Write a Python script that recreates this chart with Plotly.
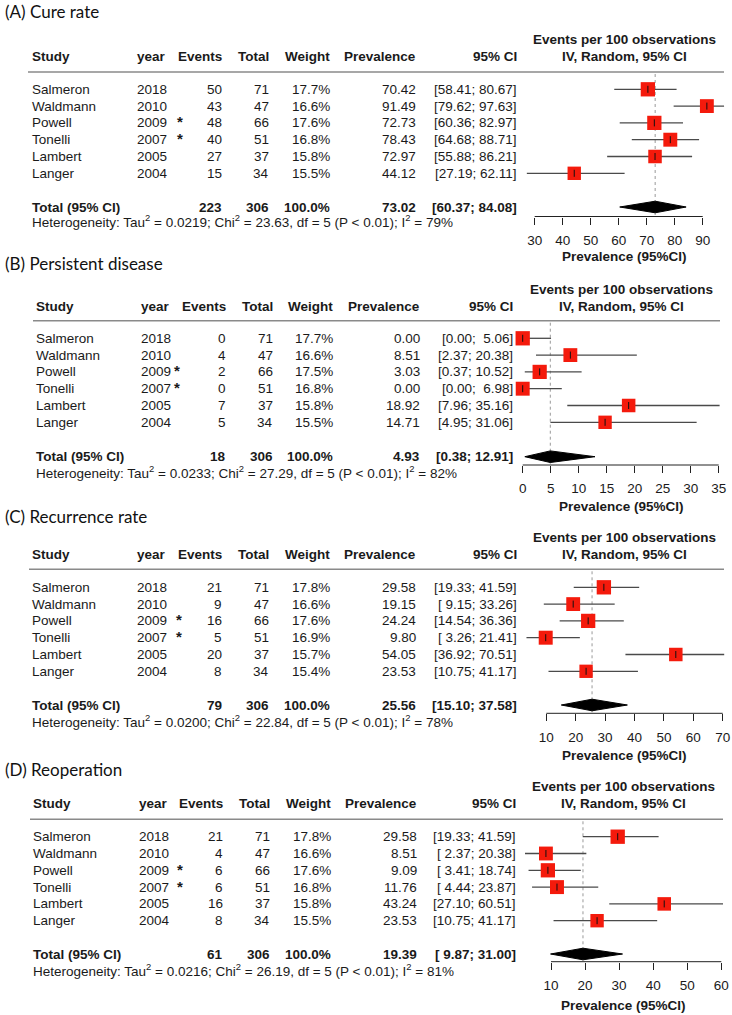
import math
import plotly.graph_objects as go

W, H = 732, 1015

# ---------------- data ----------------
studies = ["Salmeron", "Waldmann", "Powell", "Tonelli", "Lambert", "Langer"]
years = [2018, 2010, 2009, 2007, 2005, 2004]
flagged = [False, False, True, True, False, False]
totals = [71, 47, 66, 51, 37, 34]

panel_titles = ["(A) Cure rate", "(B) Persistent disease", "(C) Recurrence rate", "(D) Reoperation"]

events_A = [50, 43, 48, 40, 27, 15]
weights_A = [17.7, 16.6, 17.6, 16.8, 15.8, 15.5]
prev_A = [70.42, 91.49, 72.73, 78.43, 72.97, 44.12]
lo_A = [58.41, 79.62, 60.36, 64.68, 55.88, 27.19]
hi_A = [80.67, 97.63, 82.97, 88.71, 86.21, 62.11]
pooled_A = [73.02, 60.37, 84.08]
het_A = ["0.0219", "23.63", 5, "0.01", 79]
ticks_A = [30, 40, 50, 60, 70, 80, 90]

events_B = [0, 4, 2, 0, 7, 5]
weights_B = [17.7, 16.6, 17.5, 16.8, 15.8, 15.5]
prev_B = [0.00, 8.51, 3.03, 0.00, 18.92, 14.71]
lo_B = [0.00, 2.37, 0.37, 0.00, 7.96, 4.95]
hi_B = [5.06, 20.38, 10.52, 6.98, 35.16, 31.06]
pooled_B = [4.93, 0.38, 12.91]
het_B = ["0.0233", "27.29", 5, "0.01", 82]
ticks_B = [0, 5, 10, 15, 20, 25, 30, 35]

events_C = [21, 9, 16, 5, 20, 8]
weights_C = [17.8, 16.6, 17.6, 16.9, 15.7, 15.4]
prev_C = [29.58, 19.15, 24.24, 9.80, 54.05, 23.53]
lo_C = [19.33, 9.15, 14.54, 3.26, 36.92, 10.75]
hi_C = [41.59, 33.26, 36.36, 21.41, 70.51, 41.17]
pooled_C = [25.56, 15.10, 37.58]
het_C = ["0.0200", "22.84", 5, "0.01", 78]
ticks_C = [10, 20, 30, 40, 50, 60, 70]

events_D = [21, 4, 6, 6, 16, 8]
weights_D = [17.8, 16.6, 17.6, 16.8, 15.8, 15.5]
prev_D = [29.58, 8.51, 9.09, 11.76, 43.24, 23.53]
lo_D = [19.33, 2.37, 3.41, 4.44, 27.10, 10.75]
hi_D = [41.59, 20.38, 18.74, 23.87, 60.51, 41.17]
pooled_D = [19.39, 9.87, 31.00]
het_D = ["0.0216", "26.19", 5, "0.01", 81]
ticks_D = [10, 20, 30, 40, 50, 60]

panels = [
    (events_A, weights_A, prev_A, lo_A, hi_A, pooled_A, het_A, ticks_A),
    (events_B, weights_B, prev_B, lo_B, hi_B, pooled_B, het_B, ticks_B),
    (events_C, weights_C, prev_C, lo_C, hi_C, pooled_C, het_C, ticks_C),
    (events_D, weights_D, prev_D, lo_D, hi_D, pooled_D, het_D, ticks_D),
]

# ---------------- layout geometry (pixels) ----------------
geom = [
    dict(title=11, head=56, evh=40, line=72, row1=89.3, total=207, het=221.5, axis=216.5, atitle=256.5,
         study=30, year=135, star=175, ev=224, tot=270.7, wt=331.7, prev=418.3, ci=519.3,
         lx=(28, 724), evx=624.7, tpx=(534.7, 702.7)),
    dict(title=264, head=306, evh=289.3, line=320.7, row1=338.3, total=456.7, het=471.5, axis=465, atitle=506,
         study=33.7, year=138.7, star=172, ev=228, tot=274.7, wt=335, prev=422, ci=515,
         lx=(33, 720), evx=621, tpx=(522.7, 718.7)),
    dict(title=516.7, head=554, evh=537.3, line=569.3, row1=587.3, total=705, het=720.5, axis=713.3, atitle=755,
         study=30, year=135, star=173.5, ev=224, tot=270.7, wt=331.7, prev=418.3, ci=519.3,
         lx=(29, 724), evx=624.7, tpx=(546.3, 722.7)),
    dict(title=769.3, head=803.3, evh=786, line=819.3, row1=836.7, total=954, het=970, axis=961.7, atitle=1005,
         study=31, year=136.7, star=175, ev=225, tot=272, wt=332.7, prev=418.7, ci=517.7,
         lx=(30, 723), evx=623.7, tpx=(551, 721.3)),
]
ROW = 16.8
DOM = (470, 731)

FONT = "Liberation Sans, Arial, sans-serif"
FS = 13.5
TXT = "#1a1a1a"
RED = "#f41a0c"

fig = go.Figure()
annotations = []
shapes = []


def ann(px, py, text, anchor="left", size=FS, family=FONT, color=TXT):
    annotations.append(dict(x=px / W, y=1 - py / H, xref="paper", yref="paper", text=text,
                            showarrow=False, xanchor=anchor, yanchor="middle",
                            font=dict(family=family, size=size, color=color)))


def fmt_ci(lo_list, hi_list):
    los = [f"{v:.2f}" for v in lo_list]
    his = [f"{v:.2f}" for v in hi_list]
    wl = max(len(s) for s in los)
    wh = max(len(s) for s in his)
    return ["[" + "\u00a0" * (wl - len(a)) + a + ";\u00a0" + "\u00a0" * (wh - len(b)) + b + "]"
            for a, b in zip(los, his)]


for k, (ev, wt, pr, lo, hi, pooled, het, ticks) in enumerate(panels):
    g = geom[k]
    xa = "x" if k == 0 else f"x{k + 1}"
    xname = "xaxis" if k == 0 else f"xaxis{k + 1}"

    # title
    ann(3, g["title"], panel_titles[k], size=17, family="Lato, Open Sans, sans-serif", color="#111")

    # header
    hy = g["head"]
    ann(g["study"], hy, "<b>Study</b>")
    ann(g["year"], hy, "<b>year</b>")
    ann(g["ev"], hy, "<b>Events</b>", "right")
    ann(g["tot"], hy, "<b>Total</b>", "right")
    ann(g["wt"], hy, "<b>Weight</b>", "right")
    ann(g["prev"], hy, "<b>Prevalence</b>", "right")
    ann(g["ci"], hy, "<b>95% CI</b>", "right")
    ann(g["evx"], g["evh"], "<b>Events per 100 observations</b>", "center")
    ann(g["evx"], hy, "<b>IV, Random, 95% CI</b>", "center")
    shapes.append(dict(type="line", xref="paper", yref="paper",
                       x0=g["lx"][0] / W, x1=g["lx"][1] / W,
                       y0=1 - g["line"] / H, y1=1 - g["line"] / H,
                       line=dict(color="#8a8a8a", width=1.5)))

    ci_txt = fmt_ci(lo + [pooled[1]], hi + [pooled[2]])
    rows_y = [g["row1"] + i * ROW for i in range(len(studies))]
    for i, s in enumerate(studies):
        y = rows_y[i]
        ann(g["study"], y, s)
        ann(g["year"], y, str(years[i]))
        if flagged[i]:
            ann(g["star"], y - 1, "<b>*</b>", size=15)
        ann(g["ev"], y, str(ev[i]), "right")
        ann(g["tot"], y, str(totals[i]), "right")
        ann(g["wt"], y, f"{wt[i]:.1f}%", "right")
        ann(g["prev"], y, f"{pr[i]:.2f}", "right")
        ann(g["ci"], y, ci_txt[i], "right")

    ty = g["total"]
    ann(g["study"], ty, "<b>Total (95% CI)</b>")
    ann(g["ev"], ty, f"<b>{sum(ev)}</b>", "right")
    ann(g["tot"], ty, f"<b>{sum(totals)}</b>", "right")
    ann(g["wt"], ty, "<b>100.0%</b>", "right")
    ann(g["prev"], ty, f"<b>{pooled[0]:.2f}</b>", "right")
    ann(g["ci"], ty, f"<b>{ci_txt[-1]}</b>", "right")
    ann(g["study"], g["het"],
        f"Heterogeneity: Tau<sup>2</sup> = {het[0]}; Chi<sup>2</sup> = {het[1]}, df = {het[2]} "
        f"(P &lt; {het[3]}); I<sup>2</sup> = {het[4]}%")
    ann(g["evx"], g["atitle"], "<b>Prevalence (95%CI)</b>", "center")

    # axis range so that ticks fall at the measured pixel positions
    t0, t1 = ticks[0], ticks[-1]
    p0, p1 = g["tpx"]
    upp = (t1 - t0) / (p1 - p0)
    rng = [t0 - (p0 - DOM[0]) * upp, t0 + (DOM[1] - p0) * upp]
    fig.layout[xname] = dict(domain=[DOM[0] / W, DOM[1] / W], range=rng, anchor="free",
                             position=1 - g["axis"] / H, tickvals=ticks, ticks="outside",
                             ticklen=7, tickwidth=1, tickcolor="#222", showline=False,
                             showgrid=False, zeroline=False, ticklabelstandoff=4,
                             tickfont=dict(family=FONT, size=FS, color=TXT), fixedrange=True)

    # axis line between first and last tick
    fig.add_trace(go.Scatter(x=[t0, t1], y=[g["axis"], g["axis"]], xaxis=xa, yaxis="y",
                             mode="lines", line=dict(color="#222", width=1), hoverinfo="skip"))
    # dotted line at pooled estimate
    fig.add_trace(go.Scatter(x=[pooled[0], pooled[0]], y=[g["line"] + 2, g["axis"] - 1], xaxis=xa,
                             yaxis="y", mode="lines", line=dict(color="#999", width=1, dash="dot"),
                             hoverinfo="skip"))
    # CI lines
    cx, cy = [], []
    for i in range(len(studies)):
        cx += [lo[i], hi[i], None]
        cy += [rows_y[i], rows_y[i], None]
    fig.add_trace(go.Scatter(x=cx, y=cy, xaxis=xa, yaxis="y", mode="lines",
                             line=dict(color="#4a4a4a", width=1.3), hoverinfo="skip"))
    # squares
    fig.add_trace(go.Scatter(x=pr, y=rows_y, xaxis=xa, yaxis="y", mode="markers",
                             marker=dict(symbol="square", size=[3.4 * math.sqrt(w) for w in wt],
                                         color=RED, opacity=1, line=dict(width=0)),
                             opacity=1, cliponaxis=False, hoverinfo="skip"))
    fig.add_trace(go.Scatter(x=pr, y=rows_y, xaxis=xa, yaxis="y", mode="markers",
                             marker=dict(symbol="line-ns", size=5, line=dict(width=1, color="#111")),
                             cliponaxis=False, hoverinfo="skip"))
    # diamond
    hd = 5.8
    fig.add_trace(go.Scatter(x=[pooled[1], pooled[0], pooled[2], pooled[0], pooled[1]],
                             y=[ty, ty - hd, ty, ty + hd, ty], xaxis=xa, yaxis="y",
                             mode="lines", fill="toself", fillcolor="black",
                             line=dict(color="black", width=1), hoverinfo="skip"))

fig.update_layout(
    width=W, height=H, margin=dict(l=0, r=0, t=0, b=0),
    paper_bgcolor="white", plot_bgcolor="rgba(0,0,0,0)", showlegend=False,
    yaxis=dict(domain=[0, 1], range=[H, 0], visible=False, anchor="x", fixedrange=True),
    annotations=annotations, shapes=shapes,
)

fig.write_html("out.html", config={"displayModeBar": False},
               post_script="document.body.style.margin='0px';")
